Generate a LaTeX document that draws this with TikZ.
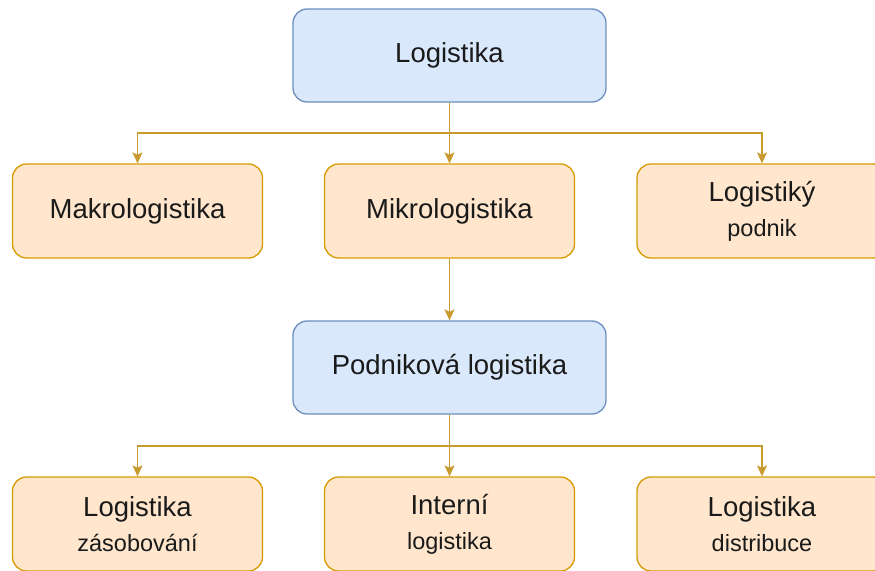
\documentclass[tikz,border=0pt]{standalone}
\usepackage{fontspec}
\setmainfont{Liberation Sans}
\usetikzlibrary{arrows.meta}
\definecolor{bluefill}{HTML}{DAE8FC}
\definecolor{bluedraw}{HTML}{6C8EBF}
\definecolor{orfill}{HTML}{FFE6CC}
\definecolor{ordraw}{HTML}{D79B00}
\definecolor{linecol}{HTML}{C99A2E}
\definecolor{txt}{HTML}{1A1A1A}
\newcommand{\sub}[1]{{\fontsize{23.5}{35}\selectfont #1}}
\begin{document}
\begin{tikzpicture}[x=1pt,y=-1pt,
  bluebox/.style={draw=bluedraw,fill=bluefill,line width=1.3pt,rounded corners=14pt,
    minimum width=313pt,minimum height=93pt,inner sep=0pt,align=center,text=txt,
    font=\fontsize{27.5}{35}\selectfont},
  orbox/.style={draw=ordraw,fill=orfill,line width=1.3pt,rounded corners=14pt,
    minimum width=250pt,minimum height=94pt,inner sep=0pt,align=center,text=txt,
    font=\fontsize{27.5}{35}\selectfont},
  conn/.style={draw=linecol,line width=1.4pt,-{Stealth[length=11pt,width=10pt,inset=2.5pt]}}]
\useasboundingbox (0,0) rectangle (875,570);
\node[bluebox] (top) at (449.5,55.5) {Logistika};
\node[orbox] (mak) at (137.5,211) {Makrologistika};
\node[orbox] (mik) at (449.5,211) {Mikrologistika};
\node[orbox] (lp) at (762,211) {Logistiký\\\sub{podnik}};
\node[bluebox] (pod) at (449.5,367.5) {Podniková logistika};
\node[orbox] (zas) at (137.5,524) {Logistika\\\sub{zásobování}};
\node[orbox] (int) at (449.5,524) {Interní\\\sub{logistika}};
\node[orbox] (dis) at (762,524) {Logistika\\\sub{distribuce}};
\coordinate (b1) at (449.5,133);
\coordinate (b2) at (449.5,446);
\draw[conn] (top.south) -- (b1) -| (mak.north);
\draw[conn] (top.south) -- (mik.north);
\draw[conn] (top.south) -- (b1) -| (lp.north);
\draw[conn] (mik.south) -- (pod.north);
\draw[conn] (pod.south) -- (b2) -| (zas.north);
\draw[conn] (pod.south) -- (int.north);
\draw[conn] (pod.south) -- (b2) -| (dis.north);
\end{tikzpicture}
\end{document}
